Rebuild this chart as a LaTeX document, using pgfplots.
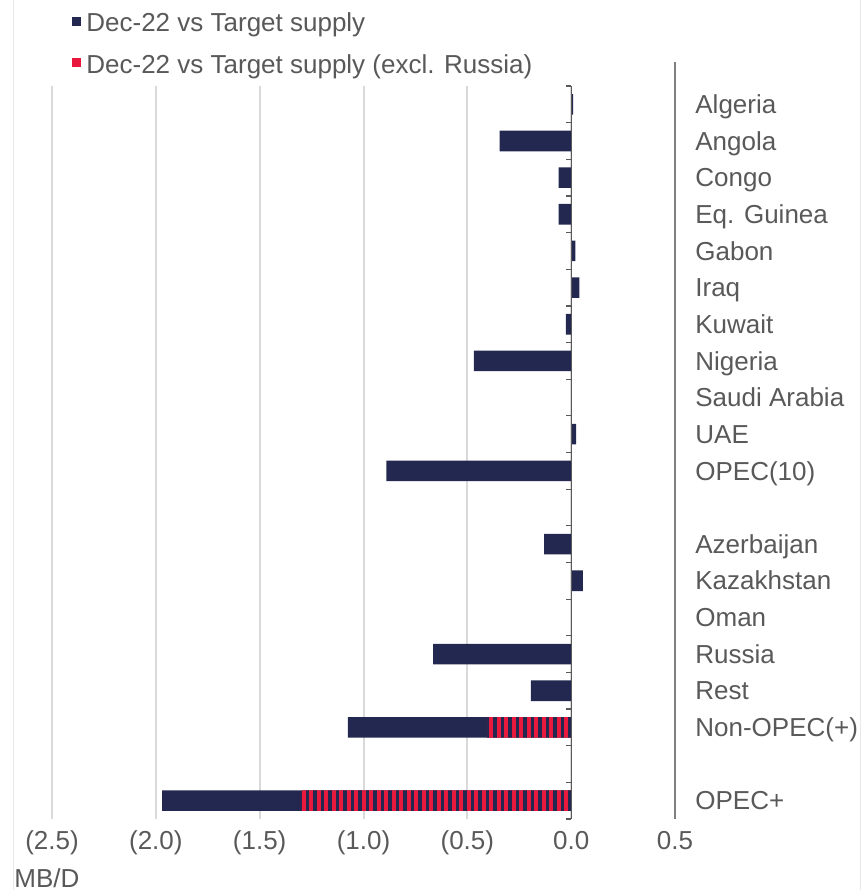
\documentclass[border=0pt]{standalone}
\usepackage{fontspec}
\setmainfont{Liberation Sans}
\usepackage{graphicx}
\usepackage{pgfplots}
\pgfplotsset{compat=1.18}
\usetikzlibrary{patterns.meta}
\definecolor{optnavy}{HTML}{22284F}
\definecolor{optred}{HTML}{E8193C}
\definecolor{labelgray}{HTML}{595959}
\definecolor{gridgray}{HTML}{D9D9D9}
\definecolor{axisgray}{HTML}{595959}
\definecolor{edgegray}{HTML}{7F7F7F}
\newcommand\f{\fontsize{13pt}{15.6pt}\selectfont}
\begin{document}
\begin{tikzpicture}
\path[use as bounding box] (0,0) rectangle (434pt,445pt);
\draw[gray!18, line width=0.5pt] (6.5pt,0) -- (6.5pt,445pt);
\draw[gray!18, line width=0.5pt] (430pt,0) -- (430pt,445pt);
\begin{axis}[
  at={(26pt,35.5pt)}, anchor=south west,
  width=311.5pt, height=366.5pt, scale only axis,
  xmin=-2.5, xmax=0.5, ymin=-0.5, ymax=19.5,
  clip=false,
  axis line style={draw=none},
  tick style={draw=none}, major tick length=0pt,
  xtick={-2.5,-2,-1.5,-1,-0.5,0,0.5},
  xticklabels={(2.5),(2.0),(1.5),(1.0),(0.5),0.0,0.5},
  xticklabel style={font=\f, text=labelgray, anchor=base, yshift=-15pt},
  xmajorgrids, grid style={line width=1pt, color=gridgray},
  ytick={0,1,...,19},
  yticklabels={OPEC+,{},Non-OPEC(+),Rest,Russia,Oman,Kazakhstan,Azerbaijan,{},OPEC(10),UAE,Saudi Arabia,Nigeria,Kuwait,Iraq,Gabon,Eq. Guinea,Congo,Angola,Algeria},
  yticklabel pos=right,
  yticklabel style={font=\f, text=labelgray, anchor=base west, inner sep=0pt, xshift=10pt, yshift=-4.6pt},
  legend image code/.code={\fill[#1] (-0.3pt,-0.9pt) rectangle (4.1pt,3.5pt); \path (6.7pt,0pt);},
  legend style={draw=none, fill=none, inner sep=0pt, at={(axis description cs:0,1)}, anchor=north west, xshift=10pt, yshift=36.75pt, font=\f, text=labelgray, row sep=9.75pt, nodes={inner sep=0pt}},
  legend cell align=left,
]
\addlegendimage{fill=optnavy, draw=none}
\addlegendentry{Dec-22 vs Target supply}
\addlegendimage{fill=optred, draw=none}
\addlegendentry{Dec-22 vs Target supply (excl. Russia)}

\addplot[xbar, bar width=10.3pt, bar shift=0pt, fill=optnavy, draw=none, forget plot] coordinates {
  (0.01,19) (-0.345,18) (-0.06,17) (-0.06,16) (0.02,15) (0.04,14) (-0.026,13) (-0.468,12) (0,11) (0.024,10) (-0.89,9)
  (-0.13,7) (0.056,6) (0,5) (-0.665,4) (-0.194,3) (-1.075,2) (-1.97,0)
};
\addplot[xbar, bar width=10.3pt, bar shift=0pt, fill=optred, draw=none, forget plot,
  postaction={pattern={Lines[angle=90, distance=3.75pt, line width=1.9pt]}, pattern color=optnavy}] coordinates {
  (-0.406,2) (-1.297,0)
};

\draw[axisgray, line width=0.6pt] (axis cs:0,-0.5) -- (axis cs:0,19.5);
\pgfplotsinvokeforeach{-0.5,0.5,...,19.5}{\draw[axisgray, line width=0.6pt] (axis cs:0,#1) -- ++(-2.8pt,0pt);}
\draw[edgegray, line width=0.9pt] (axis cs:0.5,-0.5) -- (axis cs:0.5,20.15);
\node[font=\f, text=labelgray, anchor=base west, inner sep=0pt, xshift=-19pt, yshift=-34pt] at (axis description cs:0,0) {MB/D};
\end{axis}
\end{tikzpicture}
\end{document}
